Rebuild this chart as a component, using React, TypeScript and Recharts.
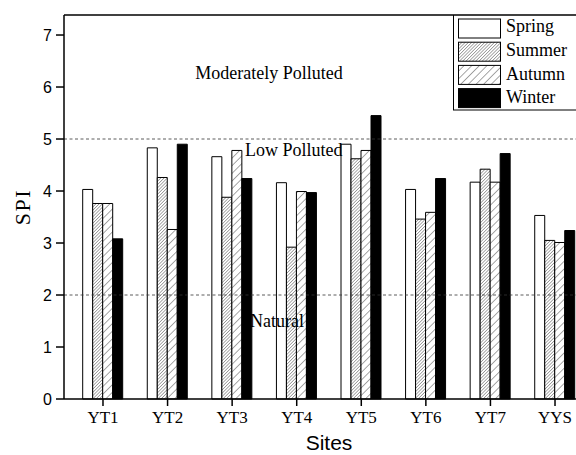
import React from "react";
import { BarChart, Bar, XAxis, YAxis, ReferenceLine } from "recharts";

const sites = ["YT1", "YT2", "YT3", "YT4", "YT5", "YT6", "YT7", "YYS"];
const spring = [4.03, 4.83, 4.66, 4.16, 4.9, 4.03, 4.17, 3.53];
const summer = [3.76, 4.26, 3.88, 2.92, 4.62, 3.46, 4.42, 3.05];
const autumn = [3.76, 3.26, 4.78, 3.99, 4.78, 3.59, 4.17, 3.01];
const winter = [3.08, 4.9, 4.24, 3.97, 5.45, 4.24, 4.72, 3.24];
const seasons = ["Spring", "Summer", "Autumn", "Winter"];
const yTicks = [0, 1, 2, 3, 4, 5, 6, 7];
const yMax = 7.385;

const serif = "'Liberation Serif', 'Times New Roman', serif";
const sans = "'Liberation Sans', Arial, sans-serif";

const fills = ["#fff", "url(#hatchDense)", "url(#hatchWide)", "#000"];
const legendFills = ["#fff", "url(#lgDense)", "url(#lgWide)", "#000"];

const data = sites.map((s, i) => ({
  site: s,
  Spring: spring[i],
  Summer: summer[i],
  Autumn: autumn[i],
  Winter: winter[i],
}));

const Hatches = ({ dense, wide }: { dense: string; wide: string }) => (
  <defs>
    <pattern id={dense} patternUnits="userSpaceOnUse" width="2.3" height="2.3" patternTransform="rotate(45)">
      <rect width="2.3" height="2.3" fill="#fff" />
      <line x1="0" y1="0" x2="0" y2="2.3" stroke="#222" strokeWidth="0.75" />
    </pattern>
    <pattern id={wide} patternUnits="userSpaceOnUse" width="5.4" height="5.4" patternTransform="rotate(45)">
      <rect width="5.4" height="5.4" fill="#fff" />
      <line x1="0" y1="0" x2="0" y2="5.4" stroke="#222" strokeWidth="0.8" />
    </pattern>
  </defs>
);

const SeasonLegend = () => (
  <svg width={140} height={100} style={{ position: "absolute", left: 453, top: 15 }}>
    <Hatches dense="lgDense" wide="lgWide" />
    <line x1={0.5} y1={0} x2={0.5} y2={95} stroke="#000" strokeWidth={1} />
    <line x1={0} y1={95} x2={140} y2={95} stroke="#000" strokeWidth={1} />
    {seasons.map((s, i) => (
      <g key={s}>
        <rect x={5.5} y={4 + i * 23.2} width={42} height={19} fill={legendFills[i]} stroke="#000" strokeWidth={1} />
        <text x={53} y={17 + i * 23.8} fontFamily={serif} fontSize={18} fill="#000">
          {s}
        </text>
      </g>
    ))}
  </svg>
);

export default function App() {
  return (
    <div style={{ position: "fixed", left: 0, top: 0, width: 576, height: 455, overflow: "hidden", background: "#fff" }}>
      <BarChart
        width={620}
        height={455}
        data={data}
        margin={{ top: 15, right: 26, bottom: 0, left: 0 }}
        barGap={0}
        barSize={10}
      >
        <Hatches dense="hatchDense" wide="hatchWide" />
        <XAxis
          dataKey="site"
          height={56}
          padding={{ left: 6.7, right: 6.7 }}
          tickSize={7}
          tickMargin={5}
          axisLine={{ stroke: "#000", strokeWidth: 1.5 }}
          tickLine={{ stroke: "#000", strokeWidth: 1.5 }}
          tick={{ fontFamily: serif, fontSize: 17, fill: "#000" }}
          label={{ value: "Sites", position: "insideBottom", offset: 5, fontFamily: sans, fontSize: 21, fill: "#000" }}
        />
        <YAxis
          width={64}
          domain={[0, yMax]}
          ticks={yTicks}
          tickSize={8}
          tickMargin={4}
          axisLine={{ stroke: "#000", strokeWidth: 1.5 }}
          tickLine={{ stroke: "#000", strokeWidth: 1.5 }}
          tick={{ fontFamily: sans, fontSize: 16, fill: "#000" }}
          label={{ value: "SPI", angle: -90, position: "center", dx: -10, fontFamily: serif, fontSize: 22, letterSpacing: 1.5, fill: "#000" }}
        />
        <ReferenceLine y={yMax} stroke="#000" strokeWidth={1.5} />
        <ReferenceLine
          y={5}
          stroke="#333"
          strokeWidth={0.8}
          strokeDasharray="3 2.5"
          label={(p: any) => (
            <g>
              <text x={p.viewBox.x + 205} y={p.viewBox.y - 60} textAnchor="middle" fontFamily={serif} fontSize={18} fill="#000">
                Moderately Polluted
              </text>
              <text x={p.viewBox.x + 181} y={p.viewBox.y + 17} fontFamily={serif} fontSize={18} fill="#000">
                Low Polluted
              </text>
            </g>
          )}
        />
        <ReferenceLine
          y={2}
          stroke="#333"
          strokeWidth={0.8}
          strokeDasharray="3 2.5"
          label={(p: any) => (
            <text x={p.viewBox.x + 186} y={p.viewBox.y + 31.7} fontFamily={serif} fontSize={18} fill="#000">
              Natural
            </text>
          )}
        />
        {seasons.map((s, i) => (
          <Bar key={s} dataKey={s} fill={fills[i]} stroke="#000" strokeWidth={1} isAnimationActive={false} />
        ))}
      </BarChart>
      <SeasonLegend />
    </div>
  );
}
